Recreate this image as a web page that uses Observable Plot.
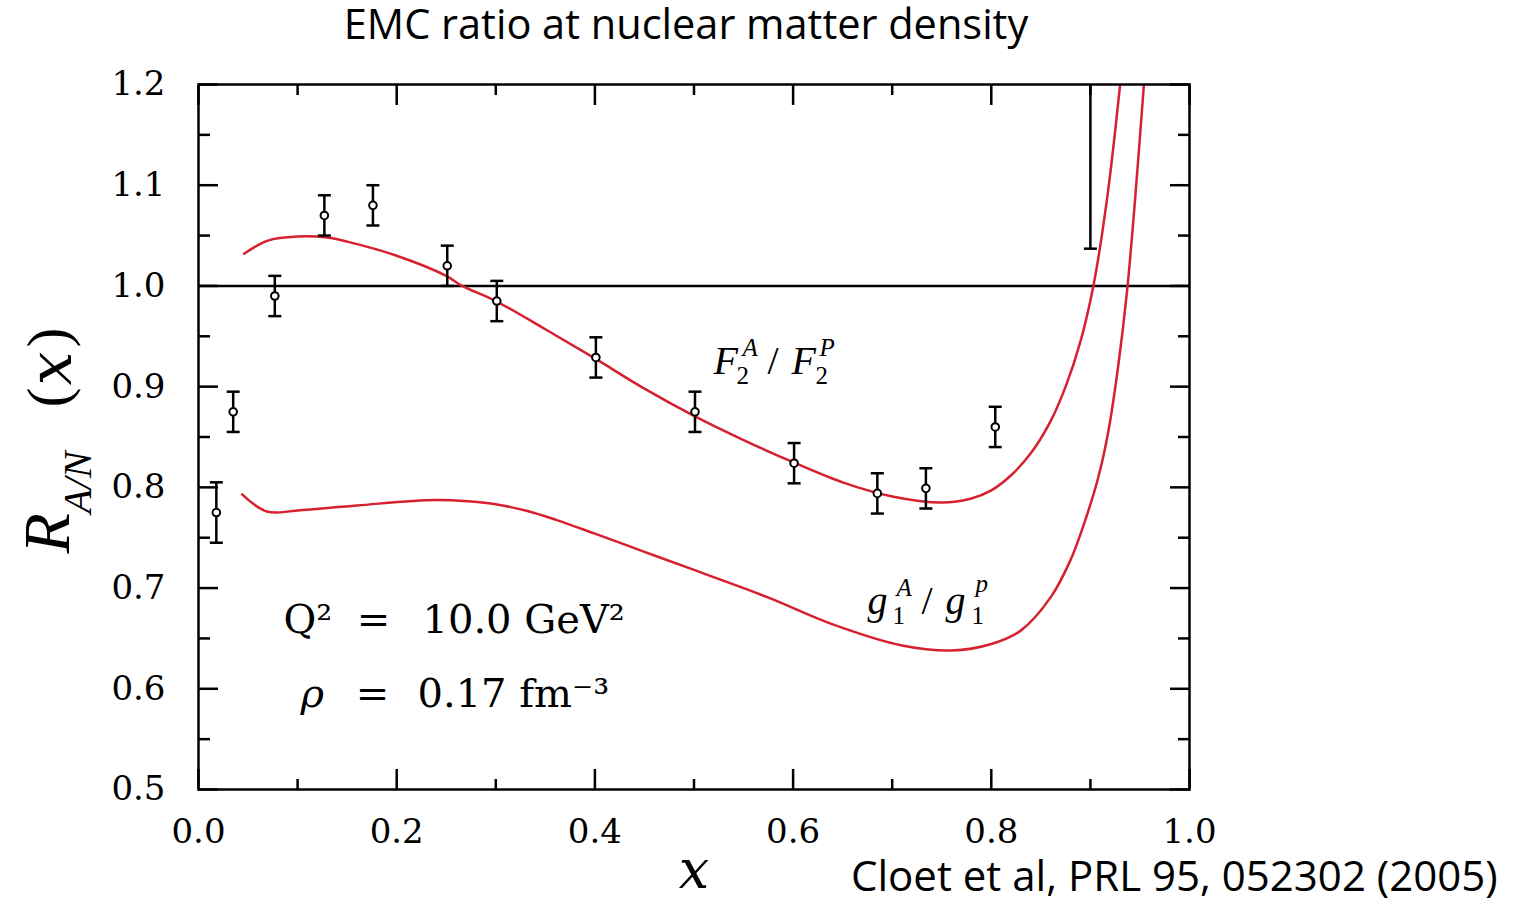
<!DOCTYPE html>
<html>
<head>
<meta charset="utf-8">
<script src="https://cdn.jsdelivr.net/npm/d3@7"></script>
<script src="https://cdn.jsdelivr.net/npm/@observablehq/plot@0.6"></script>
<style>
  body { margin: 0; background: #fff; }
  #wrap { position: relative; width: 1525px; height: 903px; overflow: hidden; background: #fff; }
  #wrap svg { position: absolute; left: 0; top: 0; }
  .note { position: absolute; font-family: "Open Sans", Lato, sans-serif; color: #000; white-space: nowrap; }
  #title { left: 0; width: 1372px; top: 5px; text-align: center; font-size: 41.5px; line-height: 36px; }
  #caption { left: 851px; top: 859px; font-size: 42px; line-height: 32px; }
</style>
</head>
<body>
<div id="wrap">
  <div id="title" class="note">EMC ratio at nuclear matter density</div>
  <div id="caption" class="note">Cloet et al, PRL 95, 052302 (2005)</div>
</div>
<script>
// ---- tick values ----
const xTicksMajor = [0, 0.2, 0.4, 0.6, 0.8, 1.0];
const xTicksMinor = [0.1, 0.3, 0.5, 0.7, 0.9];
const yTicksMajor = [0.5, 0.6, 0.7, 0.8, 0.9, 1.0, 1.1, 1.2];
const yTicksMinor = [0.55, 0.65, 0.75, 0.85, 0.95, 1.05, 1.15];

// ---- data points with error bars ----
const dataX   = [0.018, 0.035, 0.077, 0.127, 0.176, 0.251, 0.301, 0.401, 0.501, 0.601, 0.685, 0.734, 0.804];
const dataY   = [0.775, 0.875, 0.990, 1.070, 1.080, 1.020, 0.985, 0.929, 0.875, 0.824, 0.794, 0.799, 0.860];
const dataErr = [0.030, 0.020, 0.020, 0.020, 0.020, 0.020, 0.020, 0.020, 0.020, 0.020, 0.020, 0.020, 0.020];

// point whose centre is off scale (only lower error bar visible)
const outX    = [0.900];
const outLow  = [1.037];
const outHigh = [1.300];

// ---- model curves ----
const f2X = [0.046, 0.070, 0.100, 0.130, 0.150, 0.200, 0.250, 0.266, 0.300, 0.350, 0.400, 0.450, 0.500, 0.550, 0.600, 0.650, 0.700, 0.750, 0.780, 0.800, 0.820, 0.840, 0.860, 0.875, 0.890, 0.903, 0.917, 0.930];
const f2Y = [1.032, 1.045, 1.049, 1.048, 1.044, 1.030, 1.010, 1.000, 0.985, 0.957, 0.928, 0.898, 0.871, 0.847, 0.825, 0.805, 0.791, 0.785, 0.789, 0.797, 0.812, 0.834, 0.866, 0.900, 0.945, 1.000, 1.088, 1.200];

const g1X = [0.044, 0.069, 0.100, 0.160, 0.240, 0.295, 0.330, 0.360, 0.400, 0.450, 0.500, 0.574, 0.640, 0.710, 0.760, 0.800, 0.830, 0.860, 0.880, 0.895, 0.908, 0.918, 0.928, 0.937, 0.945, 0.954];
const g1Y = [0.793, 0.776, 0.777, 0.782, 0.7875, 0.784, 0.777, 0.768, 0.754, 0.736, 0.718, 0.691, 0.664, 0.643, 0.638, 0.6445, 0.658, 0.691, 0.728, 0.768, 0.810, 0.855, 0.920, 0.995, 1.085, 1.200];

// ---- build tables ----
const points = dataX.map((x, i) => ({x, y: dataY[i], lo: dataY[i] - dataErr[i], hi: dataY[i] + dataErr[i]}));
const outliers = outX.map((x, i) => ({x, lo: outLow[i], hi: outHigh[i]}));
const f2 = f2X.map((x, i) => ({x, y: f2Y[i]}));
const g1 = g1X.map((x, i) => ({x, y: g1Y[i]}));

const red = "#d7202f";
const serif = "DejaVu Serif";
const capSymbol = {draw(ctx, size) { const h = Math.sqrt(size / Math.PI); ctx.moveTo(-h, 0); ctx.lineTo(h, 0); }};

function piece(str, x, y, dx, dy, size, opts = {}) {
  return Plot.text([{x, y, t: str}], {
    x: "x", y: "y", text: "t", dx, dy, fontSize: size,
    fontFamily: opts.family || "Liberation Serif",
    fontStyle: opts.italic ? "italic" : "normal",
    textAnchor: opts.anchor || "start", lineAnchor: "bottom", fill: "#000"
  });
}
function ypiece(str, dx, dy, size, opts = {}) {
  return Plot.text([str], {
    frameAnchor: "left", rotate: -90, dx, dy, fontSize: size,
    fontFamily: opts.family || "Liberation Serif",
    fontStyle: opts.italic ? "italic" : "normal",
    textAnchor: "start", lineAnchor: "bottom", fill: "#000"
  });
}

// label anchors (data coordinates)
const f2Lab = {x: 0.5197, y: 0.913};
const g1Lab = {x: 0.675, y: 0.6747};
const qLab = {x: 0.1766, y: 0.6558};
const rhoLab = {x: 0.1766, y: 0.5816};

const empty = () => "";

const chart = Plot.plot({
  width: 1525, height: 903,
  marginTop: 84, marginLeft: 198, marginRight: 336, marginBottom: 114,
  x: {domain: [0, 1]},
  y: {domain: [0.5, 1.2]},
  style: {fontFamily: serif, fontSize: "34px", color: "#000", background: "transparent"},
  marks: [
    Plot.ruleY([1], {stroke: "#000", strokeWidth: 2.5}),
    Plot.line(f2, {x: "x", y: "y", stroke: red, strokeWidth: 2.5, curve: "catmull-rom", clip: true}),
    Plot.line(g1, {x: "x", y: "y", stroke: red, strokeWidth: 2.5, curve: "catmull-rom", clip: true}),
    // error bars
    Plot.ruleX(points, {x: "x", y1: "lo", y2: "hi", stroke: "#000", strokeWidth: 2.5}),
    Plot.dot(points, {x: "x", y: "lo", symbol: capSymbol, r: 6.5, fill: "none", stroke: "#000", strokeWidth: 2.5}),
    Plot.dot(points, {x: "x", y: "hi", symbol: capSymbol, r: 6.5, fill: "none", stroke: "#000", strokeWidth: 2.5}),
    Plot.dot(points, {x: "x", y: "y", r: 3.8, fill: "#fff", stroke: "#000", strokeWidth: 2}),
    Plot.ruleX(outliers, {x: "x", y1: "lo", y2: "hi", stroke: "#000", strokeWidth: 2.5, clip: true}),
    Plot.dot(outliers, {x: "x", y: "lo", symbol: capSymbol, r: 6.5, fill: "none", stroke: "#000", strokeWidth: 2.5}),
    // inward ticks on all four sides
    Plot.axisX(xTicksMajor, {anchor: "bottom", tickSize: -20, tickFormat: empty, label: null, strokeWidth: 2.5}),
    Plot.axisX(xTicksMinor, {anchor: "bottom", tickSize: -10, tickFormat: empty, label: null, strokeWidth: 2.5}),
    Plot.axisX(xTicksMajor, {anchor: "top", tickSize: -20, tickFormat: empty, label: null, strokeWidth: 2.5}),
    Plot.axisX(xTicksMinor, {anchor: "top", tickSize: -10, tickFormat: empty, label: null, strokeWidth: 2.5}),
    Plot.axisY(yTicksMajor, {anchor: "left", tickSize: -20, tickFormat: empty, label: null, strokeWidth: 2.5}),
    Plot.axisY(yTicksMinor, {anchor: "left", tickSize: -12, tickFormat: empty, label: null, strokeWidth: 2.5}),
    Plot.axisY(yTicksMajor, {anchor: "right", tickSize: -20, tickFormat: empty, label: null, strokeWidth: 2.5}),
    Plot.axisY(yTicksMinor, {anchor: "right", tickSize: -12, tickFormat: empty, label: null, strokeWidth: 2.5}),
    // tick labels
    Plot.axisX(xTicksMajor, {anchor: "bottom", tickSize: 0, tickPadding: 29, tickFormat: d => d.toFixed(1), label: null, fontSize: 34}),
    Plot.axisY(yTicksMajor, {anchor: "left", tickSize: 0, tickPadding: 33, tickFormat: d => d.toFixed(1), label: null, fontSize: 34}),
    // axis labels
    Plot.text(["x"], {frameAnchor: "bottom", dy: 98, fontSize: 54, fontFamily: serif, fontStyle: "italic", lineAnchor: "bottom", fill: "#000"}),
    ypiece("R", -130, 116.5, 66, {italic: true}),
    ypiece("A/N", -108, 76.5, 40, {italic: true}),
    ypiece("(", -131, -29.5, 60),
    ypiece("x", -128, -51.5, 60, {italic: true, family: serif}),
    ypiece(")", -131, -89.5, 60),
    // curve labels
    piece("F", f2Lab.x, f2Lab.y, 0, 0, 40, {italic: true}),
    piece("2", f2Lab.x, f2Lab.y, 23, 10, 25),
    piece("A", f2Lab.x, f2Lab.y, 29, -18, 25, {italic: true}),
    piece("/", f2Lab.x, f2Lab.y, 54, 0, 40),
    piece("F", f2Lab.x, f2Lab.y, 78, 0, 40, {italic: true}),
    piece("2", f2Lab.x, f2Lab.y, 102, 10, 25),
    piece("P", f2Lab.x, f2Lab.y, 106, -18, 25, {italic: true}),
    piece("g", g1Lab.x, g1Lab.y, 0, 0, 40, {italic: true}),
    piece("1", g1Lab.x, g1Lab.y, 25, 10, 25),
    piece("A", g1Lab.x, g1Lab.y, 29, -18, 25, {italic: true}),
    piece("/", g1Lab.x, g1Lab.y, 54, 0, 40),
    piece("g", g1Lab.x, g1Lab.y, 78, 0, 40, {italic: true}),
    piece("1", g1Lab.x, g1Lab.y, 104, 10, 25),
    piece("p", g1Lab.x, g1Lab.y, 108, -22, 25, {italic: true}),
    // parameter annotation
    piece("Q²", qLab.x, qLab.y, -90, 0, 40, {family: serif}),
    piece("=", qLab.x, qLab.y, 0, 0, 40, {family: serif, anchor: "middle"}),
    piece("10.0 GeV²", qLab.x, qLab.y, 49, 0, 40, {family: serif}),
    piece("ρ", rhoLab.x, rhoLab.y, -73, 0, 40, {family: serif, italic: true}),
    piece("=", rhoLab.x, rhoLab.y, -1, 0, 40, {family: serif, anchor: "middle"}),
    piece("0.17 fm⁻³", rhoLab.x, rhoLab.y, 44, 0, 40, {family: serif}),
    Plot.frame({stroke: "#000", strokeWidth: 2.5})
  ]
});
document.getElementById("wrap").prepend(chart);
</script>
</body>
</html>
